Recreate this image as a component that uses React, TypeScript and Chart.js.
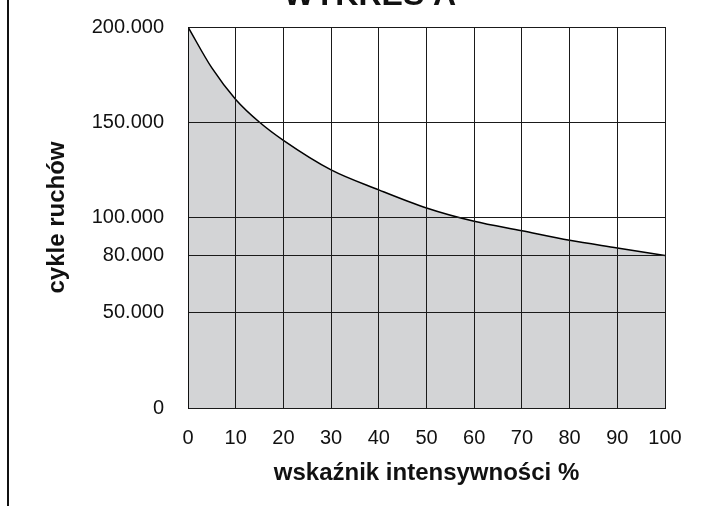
import { useEffect, useRef } from "react";
import { Chart, registerables } from "chart.js";

Chart.register(...registerables);

const intensity = [0, 5, 10, 15, 20, 30, 40, 50, 60, 70, 80, 90, 100];
const cycles = [200000, 178500, 162000, 150000, 140500, 125000, 114500, 105000, 98000, 93000, 88000, 84000, 80000];
const yTickValues = [0, 50000, 80000, 100000, 150000, 200000];
const chartTitle = "WYKRES A";
const xTitle = "wskaźnik intensywności %";
const yTitle = "cykle ruchów";

const FONT = "'Liberation Sans', Arial, Helvetica, sans-serif";

const decorPlugin = {
  id: "decor",
  afterDraw(chart: any) {
    const ctx = chart.ctx;
    ctx.save();
    ctx.fillStyle = "#111";
    ctx.fillRect(7, 0, 2, chart.height);
    ctx.font = `bold 32px ${FONT}`;
    ctx.textAlign = "center";
    ctx.textBaseline = "alphabetic";
    ctx.fillText(chartTitle, 370, 4.5);
    ctx.restore();
  },
};

function fmt(v: number) {
  if (v === 0) return "0";
  return String(v).replace(/\B(?=(\d{3})+(?!\d))/g, ".");
}

export default function App() {
  const ref = useRef<HTMLCanvasElement | null>(null);
  useEffect(() => {
    if (!ref.current) return;
    const chart = new Chart(ref.current, {
      type: "line",
      data: {
        datasets: [
          {
            data: intensity.map((x, i) => ({ x, y: cycles[i] })),
            fill: "origin",
            backgroundColor: "#d3d4d6",
            borderColor: "#000",
            borderWidth: 1.5,
            pointRadius: 0,
            cubicInterpolationMode: "monotone",
          },
        ],
      },
      options: {
        responsive: false,
        animation: false,
        layout: { padding: { top: 27, right: 48, left: 0, bottom: 0 } },
        plugins: { legend: { display: false }, tooltip: { enabled: false } },
        scales: {
          x: {
            type: "linear",
            min: 0,
            max: 100,
            afterFit: (s: any) => {
              s.height = 98;
              s.paddingLeft = 0;
              s.paddingRight = 0;
            },
            ticks: {
              stepSize: 10,
              padding: 18,
              color: "#111",
              font: { family: FONT, size: 20 },
            },
            grid: { color: "#1a1a1a", lineWidth: 1, drawTicks: false, z: 1 },
            border: { color: "#111", width: 1, z: 1 },
            title: {
              display: true,
              text: xTitle,
              color: "#111",
              font: { family: FONT, size: 24, weight: "bold" },
              padding: { top: 0, bottom: 18 },
            },
          },
          y: {
            type: "linear",
            min: 0,
            max: 200000,
            afterFit: (s: any) => {
              s.width = 188;
              s.paddingTop = 0;
              s.paddingBottom = 0;
            },
            afterBuildTicks: (s: any) => {
              s.ticks = yTickValues.map((v) => ({ value: v }));
            },
            ticks: {
              padding: 24,
              color: "#111",
              font: { family: FONT, size: 20 },
              callback: (v: any) => fmt(Number(v)),
            },
            grid: { color: "#1a1a1a", lineWidth: 1, drawTicks: false, z: 1 },
            border: { color: "#111", width: 1, z: 1 },
            title: {
              display: true,
              text: yTitle,
              color: "#111",
              font: { family: FONT, size: 24, weight: "bold" },
              padding: { top: 43, bottom: 0 },
            },
          },
        },
      },
      plugins: [decorPlugin],
    });
    return () => chart.destroy();
  }, []);
  return (
    <div style={{ position: "fixed", left: 0, top: 0, width: 713, height: 506, background: "#fff" }}>
      <canvas ref={ref} width={713} height={506} style={{ display: "block", width: 713, height: 506 }} />
    </div>
  );
}
